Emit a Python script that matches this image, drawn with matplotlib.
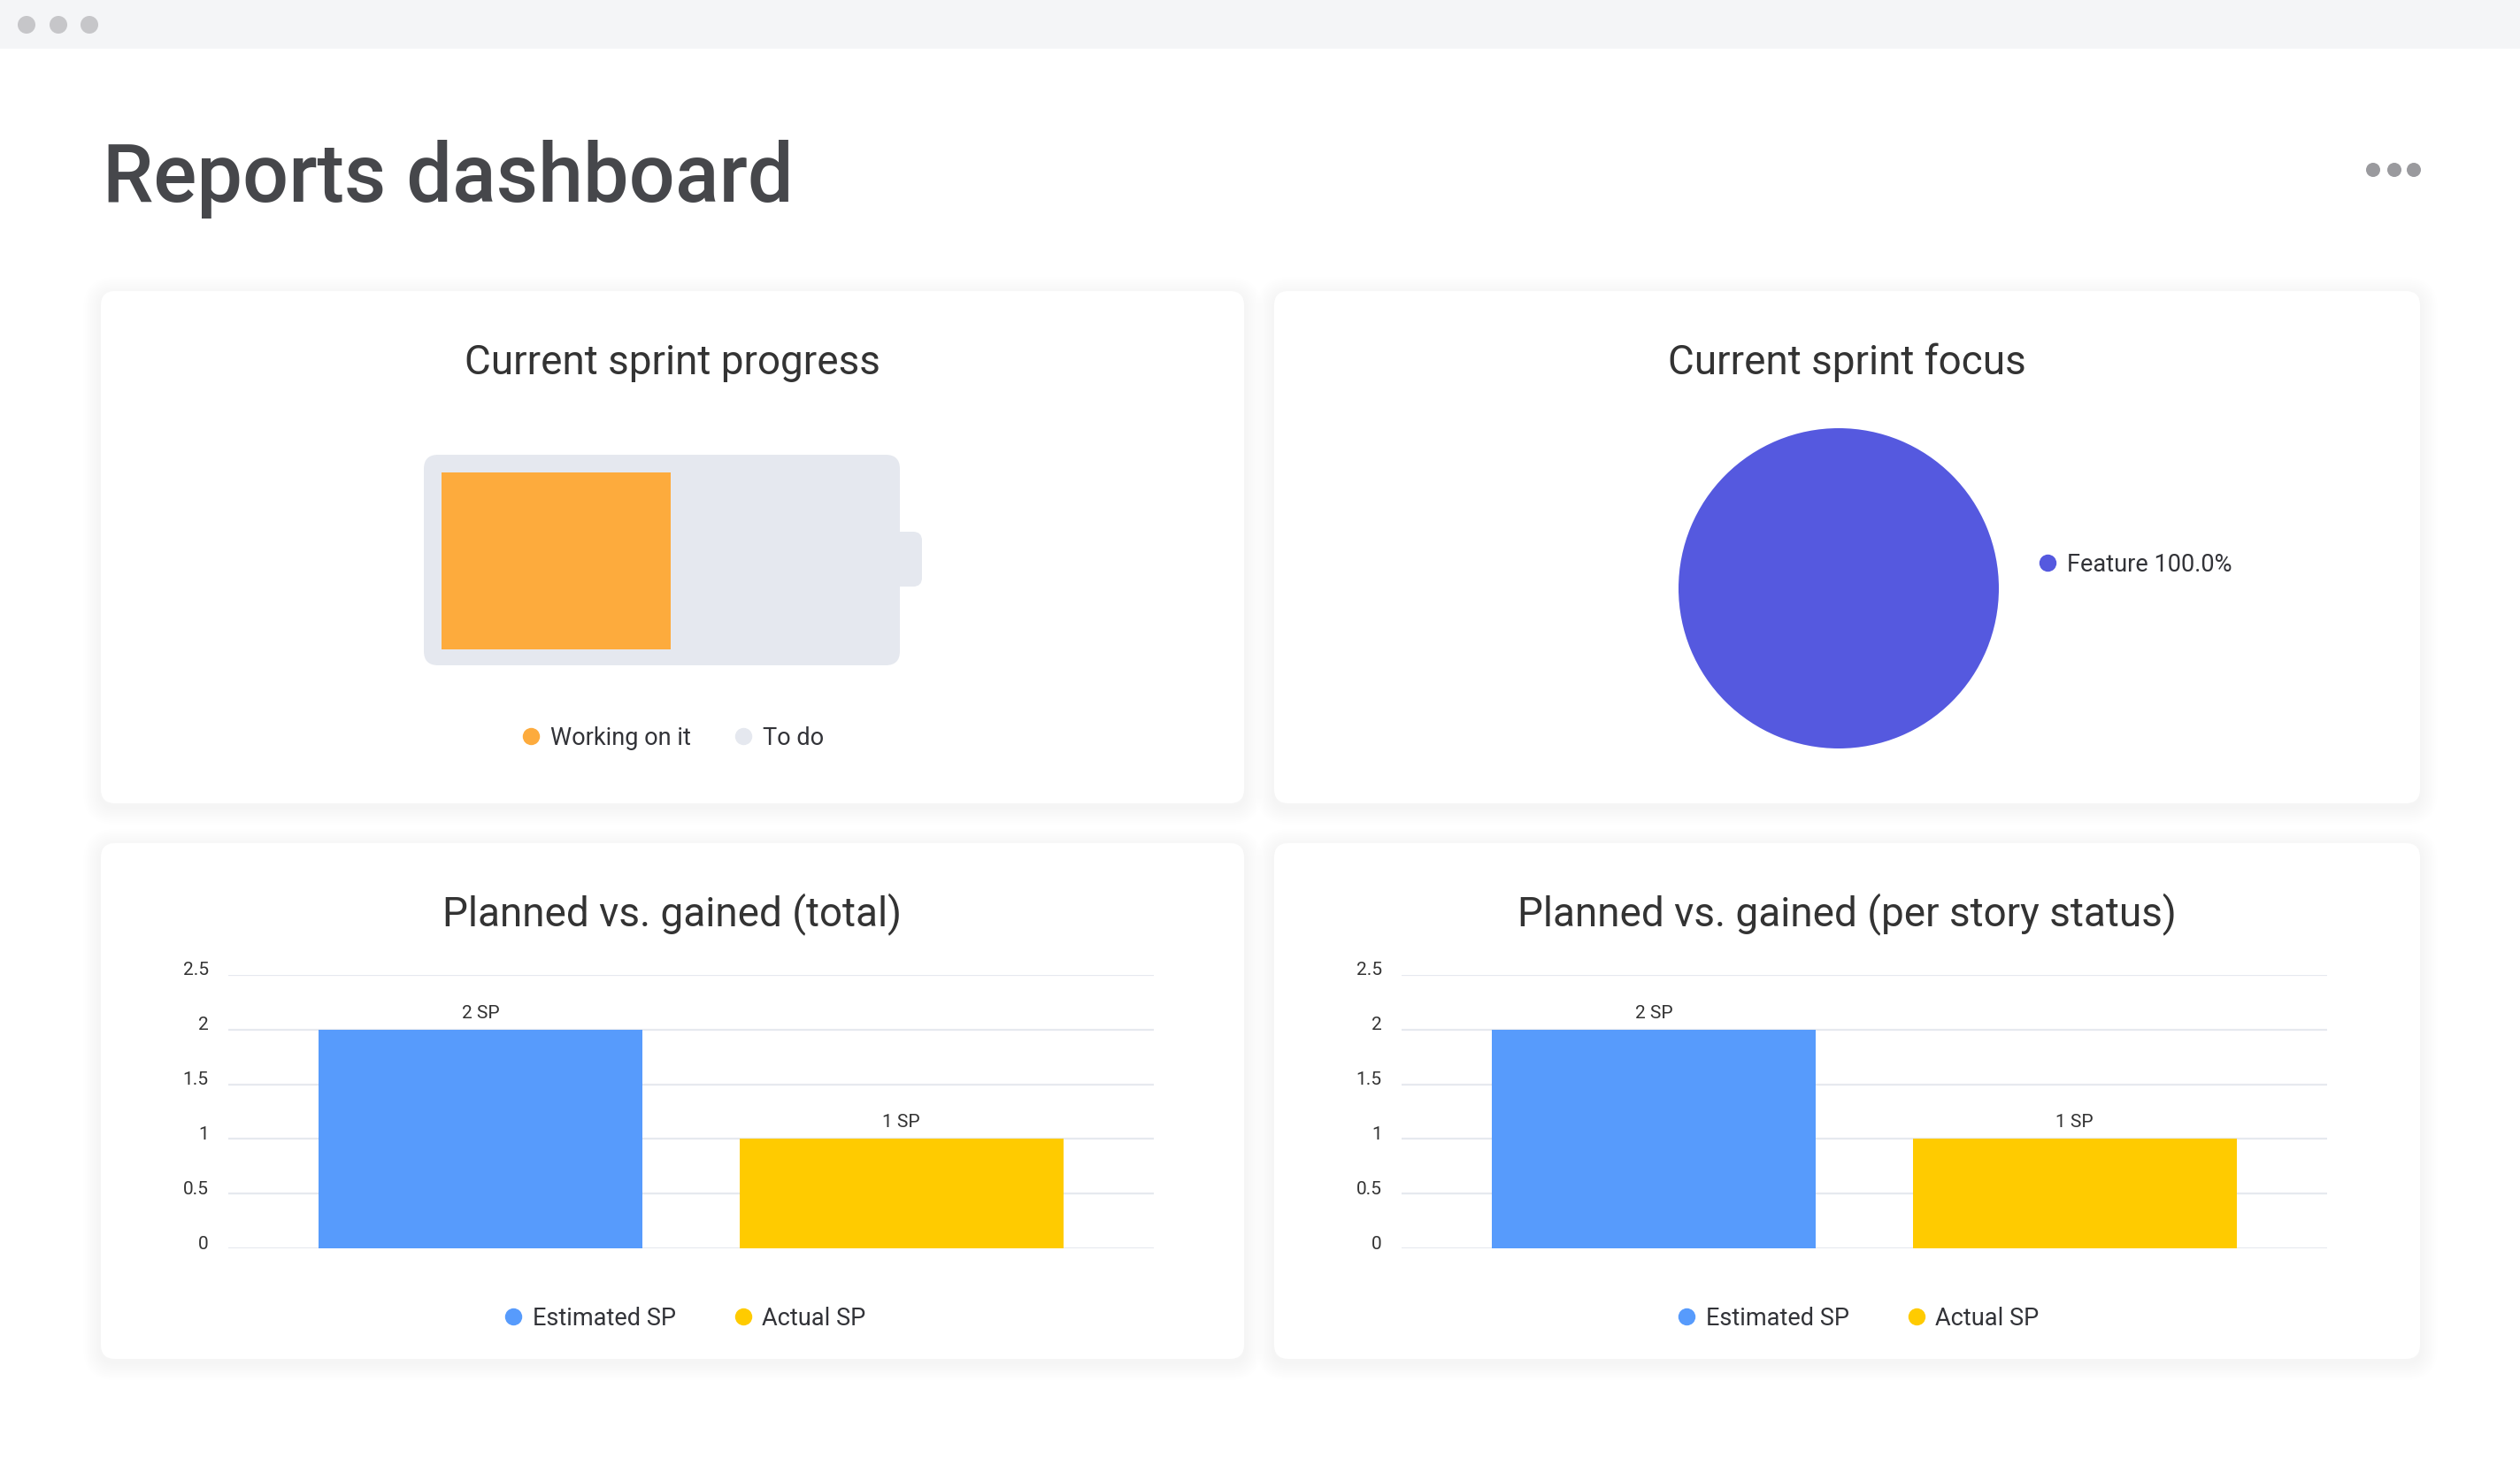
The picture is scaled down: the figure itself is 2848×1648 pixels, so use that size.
import matplotlib
matplotlib.use("Agg")
import matplotlib.pyplot as plt
from matplotlib.patches import FancyBboxPatch, Circle, Rectangle
from matplotlib.lines import Line2D
from matplotlib.transforms import ScaledTranslation

plt.rcParams["font.family"] = ["Roboto", "DejaVu Sans"]

W, H = 2848, 1648
DPI = 100

# --- data ---
page_title = "Reports dashboard"
card_titles = ["Current sprint progress", "Current sprint focus",
               "Planned vs. gained (total)", "Planned vs. gained (per story status)"]

progress_labels = ["Working on it", "To do"]
progress_counts = [1, 1]
progress_colors = ["#fdab3d", "#e5e8ef"]

focus_labels = ["Feature"]
focus_share = [100.0]
focus_colors = ["#5559df"]

sp_labels = ["Estimated SP", "Actual SP"]
sp_total = [2, 1]
sp_per_status = [2, 1]
sp_colors = ["#579bfc", "#ffcb00"]

y_ticks = [0, 0.5, 1, 1.5, 2, 2.5]
y_tick_labels = ["0", "0.5", "1", "1.5", "2", "2.5"]

TEXT = "#323338"
GRID = "#e6e9ef"

fig = plt.figure(figsize=(W / DPI, H / DPI), dpi=DPI)
fig.patch.set_facecolor("white")

# background canvas in pixel coords (y down)
bg = fig.add_axes([0, 0, 1, 1])
bg.set_xlim(0, W)
bg.set_ylim(H, 0)
bg.axis("off")


def px_axes(x0, y0, x1, y1):
    ax = fig.add_axes([x0 / W, 1 - y1 / H, (x1 - x0) / W, (y1 - y0) / H])
    ax.set_facecolor("none")
    return ax


def rounded(x0, y0, x1, y1, r, **kw):
    bg.add_patch(FancyBboxPatch((x0, y0), x1 - x0, y1 - y0,
                                boxstyle=f"round,pad=0,rounding_size={r}", **kw))


def card(x0, y0, x1, y1):
    # soft shadow
    for i in range(10, 0, -1):
        s = i * 2.0
        rounded(x0 - s, y0 - s + 4, x1 + s, y1 + s + 4, 16 + s,
                fc="black", ec="none", alpha=0.005)
    rounded(x0, y0, x1, y1, 16, fc="white", ec="none")


def dot_legend(labels, colors, anchor, loc="center", colspace=2.4):
    handles = [Line2D([], [], ls="none", marker="o", ms=14, mfc=c, mec="none")
               for c in colors]
    fig.legend(handles, labels, loc=loc,
               bbox_to_anchor=(anchor[0] / W, 1 - anchor[1] / H),
               ncol=len(labels), frameon=False, fontsize=19.5, labelcolor=TEXT,
               handlelength=0.8, handletextpad=0.4, columnspacing=colspace,
               borderpad=0, borderaxespad=0)


# window chrome
bg.add_patch(Rectangle((0, 0), W, 55, fc="#f4f5f7", ec="none"))
for cx in (30, 66, 101):
    bg.add_patch(Circle((cx, 28), 10, fc="#c6c6c9", ec="none"))
for cx in (2682, 2706, 2728):
    bg.add_patch(Circle((cx, 192), 8, fc="#9a9a9e", ec="none"))

bg.text(116, 228, page_title, fontsize=66, fontweight="medium",
        color="#46474b", va="baseline", ha="left")

card_boxes = [(114, 329, 1406, 908), (1440, 329, 2735, 908),
              (114, 953, 1406, 1536), (1440, 953, 2735, 1536)]
title_base = [423, 423, 1046, 1046]
for box, t, yb in zip(card_boxes, card_titles, title_base):
    card(*box)
    bg.text((box[0] + box[2]) / 2, yb, t, fontsize=33, color="#333333",
            ha="center", va="baseline")

# --- battery (sprint progress) ---
rounded(479, 514, 1017, 752, 16, fc=progress_colors[1], ec="none")
rounded(1005, 601, 1042, 663, 10, fc=progress_colors[1], ec="none")
ax_bat = px_axes(499, 534, 1017, 734)
left = 0
for n, c in zip(progress_counts, progress_colors):
    ax_bat.barh(0.5, n, left=left, height=1, color=c, linewidth=0)
    left += n
ax_bat.set_xlim(0, sum(progress_counts))
ax_bat.set_ylim(0, 1)
ax_bat.axis("off")
dot_legend(progress_labels, progress_colors, (760, 834), colspace=1.8)

# --- pie (sprint focus) ---
pcx, pcy, pr = 2078, 665, 181
ax_pie = px_axes(pcx - pr, pcy - pr, pcx + pr, pcy + pr)
ax_pie.pie(focus_share, colors=focus_colors, startangle=90,
           wedgeprops=dict(linewidth=0))
ax_pie.set_xlim(-1, 1)
ax_pie.set_ylim(-1, 1)
dot_legend([f"{l} {v:.1f}%" for l, v in zip(focus_labels, focus_share)],
           focus_colors, (2303, 638), loc="center left")


# --- planned vs gained bars ---
def bar_panel(x0, values):
    ax = px_axes(x0, 1102, x0 + 1046, 1411)
    xs = list(range(len(values)))
    bars = ax.bar(xs, values, width=0.77, color=sp_colors, linewidth=0, zorder=2)
    ax.set_xlim(-0.6, len(values) - 0.4)
    ax.set_ylim(0, 2.5)
    ax.set_yticks(y_ticks, y_tick_labels)
    ax.set_xticks([])
    ax.yaxis.grid(True, color=GRID, lw=1.6)
    ax.set_axisbelow(True)
    ax.tick_params(axis="y", length=0, pad=16, labelsize=15, labelcolor="#333333")
    for lab in ax.get_yticklabels():
        lab.set_transform(lab.get_transform() +
                          ScaledTranslation(0, 7 / DPI, fig.dpi_scale_trans))
    for s in ax.spines.values():
        s.set_visible(False)
    ax.bar_label(bars, labels=[f"{v} SP" for v in values], padding=6.5,
                 fontsize=15, color="#333333")
    return ax


bar_panel(258, sp_total)
dot_legend(sp_labels, sp_colors, (774, 1490))
bar_panel(1584, sp_per_status)
dot_legend(sp_labels, sp_colors, (2100, 1490))

fig.savefig("out.png", dpi=DPI)
